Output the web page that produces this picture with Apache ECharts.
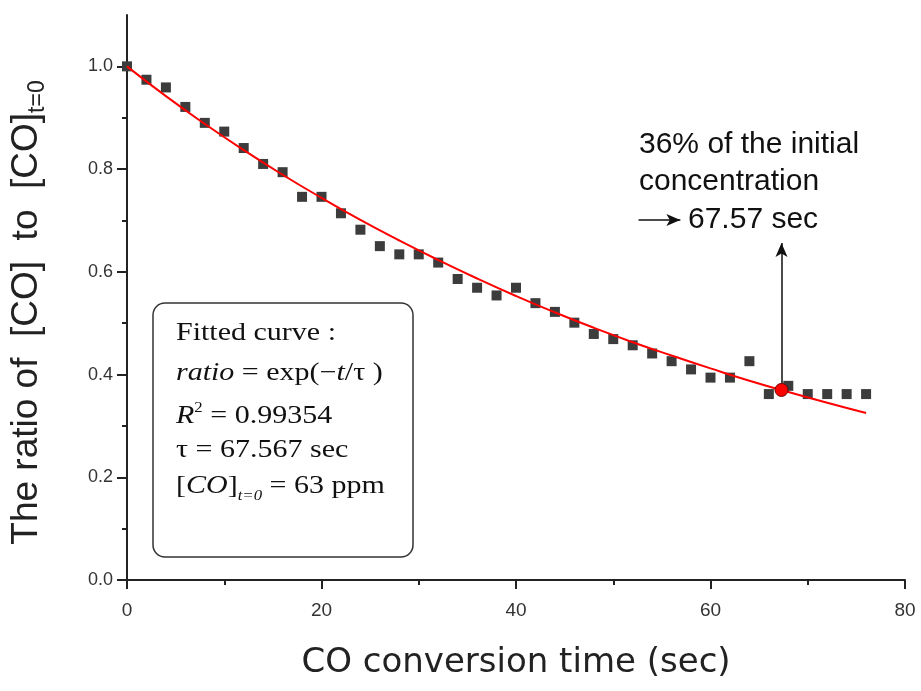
<!DOCTYPE html>
<html>
<head>
<meta charset="utf-8">
<script src="https://cdn.jsdelivr.net/npm/echarts@6/dist/echarts.min.js"></script>
<style>html,body{margin:0;padding:0;background:#fff;}#c{width:921px;height:691px;}</style>
</head>
<body>
<div id="c"></div>
<script>
// measured data points (time in sec, ratio [CO]/[CO]t=0)
const timeSec = [0,2,4,6,8,10,12,14,16,18,20,22,24,26,28,30,32,34,36,38,40,42,44,46,48,50,52,54,56,58,60,62,64,66,68,70,72,74,76];
const ratioMeasured = [1.000,0.974,0.959,0.921,0.890,0.873,0.841,0.810,0.794,0.746,0.746,0.714,0.682,0.650,0.634,0.634,0.618,0.586,0.569,0.554,0.569,0.539,0.522,0.501,0.479,0.469,0.457,0.441,0.426,0.410,0.394,0.394,0.426,0.362,0.378,0.362,0.362,0.362,0.362];
// fitted curve
const fitTime = [0,4,8,12,16,20,24,28,32,36,40,44,48,52,56,60,64,68,72,76];
const fitRatio = [1.000,0.942,0.888,0.837,0.789,0.744,0.701,0.661,0.623,0.587,0.553,0.521,0.491,0.463,0.437,0.412,0.388,0.366,0.345,0.325];
// 36% marker and arrow
const markerTime = 67.3;
const markerRatio = 0.370;
const arrowTopRatio = 0.656;
const smallArrowFrom = [52.6, 0.701];
const smallArrowTo = [56.9, 0.701];
// tick labels
const xTicks = [0,20,40,60,80];
const xMinorTicks = [10,30,50,70];
const yTicks = [0.0,0.2,0.4,0.6,0.8,1.0];
const yMinorTicks = [0.1,0.3,0.5,0.7,0.9];

const chart = echarts.init(document.getElementById('c'), null, {renderer:'canvas'});
const axisColor = '#222';
const serif = '"Liberation Serif","Times New Roman",serif';
const sans = '"Liberation Sans",Arial,sans-serif';

const option = {
  backgroundColor: '#fff',
  animation: false,
  grid: {left: 127, top: 15, width: 778, height: 565, containLabel: false},
  xAxis: [{
    type: 'value', min: 0, max: 80, interval: 20, position: 'bottom',
    name: 'CO conversion time (sec)', nameLocation: 'middle', nameGap: 66,
    nameTextStyle: {fontFamily: '"DejaVu Sans",sans-serif', fontSize: 34, color: '#222'},
    axisLine: {show: true, lineStyle: {color: axisColor, width: 2}},
    axisTick: {show: true, inside: false, length: 9, lineStyle: {color: axisColor, width: 2}, customValues: xTicks},
    axisLabel: {show: true, margin: 21, fontFamily: sans, fontSize: 19, color: '#333', customValues: xTicks},
    splitLine: {show: false}
  },{
    type: 'value', min: 0, max: 80, interval: 10, position: 'bottom',
    axisLine: {show: false},
    axisTick: {show: true, inside: false, length: 5, lineStyle: {color: axisColor, width: 2}, customValues: xMinorTicks},
    axisLabel: {show: false},
    splitLine: {show: false}
  }],
  yAxis: [{
    type: 'value', min: 0, max: 1.1, interval: 0.1, position: 'left',
    name: '{a|The ratio of  [CO]  to  [CO]}{s|t=0}', nameLocation: 'middle', nameGap: 78, nameRotate: 90,
    nameTextStyle: {
      padding: [0, 30, 0, 0],
      rich: {
        a: {fontFamily: sans, fontSize: 37, color: '#222', lineHeight: 45},
        s: {fontFamily: sans, fontSize: 23, color: '#222', verticalAlign: 'bottom', lineHeight: 45}
      }
    },
    axisLine: {show: true, lineStyle: {color: axisColor, width: 2}},
    axisTick: {show: true, inside: false, length: 10, lineStyle: {color: axisColor, width: 2}, customValues: yTicks},
    axisLabel: {show: true, margin: 14, fontFamily: sans, fontSize: 18, color: '#333', customValues: yTicks,
      formatter: v => v.toFixed(1)},
    splitLine: {show: false}
  },{
    type: 'value', min: 0, max: 1.1, interval: 0.1, position: 'left',
    axisLine: {show: false},
    axisTick: {show: true, inside: false, length: 5, lineStyle: {color: axisColor, width: 2}, customValues: yMinorTicks},
    axisLabel: {show: false},
    splitLine: {show: false}
  }],
  series: [
    {
      name: 'fit', type: 'line', smooth: true, showSymbol: false, symbol: 'none', z: 3,
      data: fitTime.map((t,i) => [t, fitRatio[i]]),
      lineStyle: {color: '#ff0000', width: 2}
    },
    {
      name: 'measured', type: 'scatter', symbol: 'rect', symbolSize: 10, z: 2,
      data: timeSec.map((t,i) => [t, ratioMeasured[i]]),
      itemStyle: {color: '#3c3c3c', opacity: 1}
    },
    {
      name: 'arrows', type: 'scatter', symbolSize: 0, data: [], z: 4,
      markLine: {
        silent: true, symbol: ['none','arrow'], symbolSize: [9, 14], label: {show: false},
        lineStyle: {color: '#111', width: 1.5, type: 'solid'},
        data: [
          [{coord: [markerTime, markerRatio]}, {coord: [markerTime, arrowTopRatio]}],
          [{coord: smallArrowFrom}, {coord: smallArrowTo}]
        ]
      }
    },
    {
      name: 'marker', type: 'scatter', symbol: 'circle', symbolSize: 13, z: 5,
      data: [[markerTime, markerRatio]],
      itemStyle: {color: '#ff0000', borderColor: '#700000', borderWidth: 1, opacity: 1}
    }
  ],
  graphic: [
    {type: 'rect', z: 10, shape: {x: 153, y: 303, width: 260, height: 254, r: 12},
      style: {fill: '#fff', stroke: '#333', lineWidth: 1.5}},
    {type: 'text', z: 11, x: 176, y: 333, scaleX: 1.2,
      style: {text: 'Fitted curve :', font: '25px ' + serif, fill: '#111', textAlign: 'left', textVerticalAlign: 'middle'}},
    {type: 'text', z: 11, x: 176, y: 373, scaleX: 1.2,
      style: {text: '{i|ratio} = exp(−{i|t}/τ )', fill: '#111', textAlign: 'left', textVerticalAlign: 'middle',
        font: '25px ' + serif,
        rich: {i: {fontStyle: 'italic', fontFamily: serif, fontSize: 25, fill: '#111'}}}},
    {type: 'text', z: 11, x: 176, y: 416, scaleX: 1.2,
      style: {text: '{i|R}{p|2} = 0.99354', fill: '#111', textAlign: 'left', textVerticalAlign: 'middle',
        font: '25px ' + serif,
        rich: {i: {fontStyle: 'italic', fontFamily: serif, fontSize: 25, fill: '#111', lineHeight: 30},
               p: {fontFamily: serif, fontSize: 14, fill: '#111', verticalAlign: 'top', lineHeight: 30}}}},
    {type: 'text', z: 11, x: 176, y: 450, scaleX: 1.2,
      style: {text: 'τ = 67.567 sec', font: '25px ' + serif, fill: '#111', textAlign: 'left', textVerticalAlign: 'middle'}},
    {type: 'text', z: 11, x: 176, y: 486, scaleX: 1.2,
      style: {text: '[{i|CO}]{b|t=0} = 63 ppm', fill: '#111', textAlign: 'left', textVerticalAlign: 'middle',
        font: '25px ' + serif,
        rich: {i: {fontStyle: 'italic', fontFamily: serif, fontSize: 25, fill: '#111', lineHeight: 34},
               b: {fontStyle: 'italic', fontFamily: serif, fontSize: 14, fill: '#111', verticalAlign: 'bottom', lineHeight: 34}}}},
    {type: 'text', z: 11, x: 639, y: 145,
      style: {text: '36% of the initial', font: '30px ' + sans, fill: '#111', textAlign: 'left', textVerticalAlign: 'middle'}},
    {type: 'text', z: 11, x: 639, y: 182,
      style: {text: 'concentration', font: '30px ' + sans, fill: '#111', textAlign: 'left', textVerticalAlign: 'middle'}},
    {type: 'text', z: 11, x: 688, y: 220,
      style: {text: '67.57 sec', font: '30px ' + sans, fill: '#111', textAlign: 'left', textVerticalAlign: 'middle'}}
  ]
};
chart.setOption(option);
</script>
</body>
</html>
